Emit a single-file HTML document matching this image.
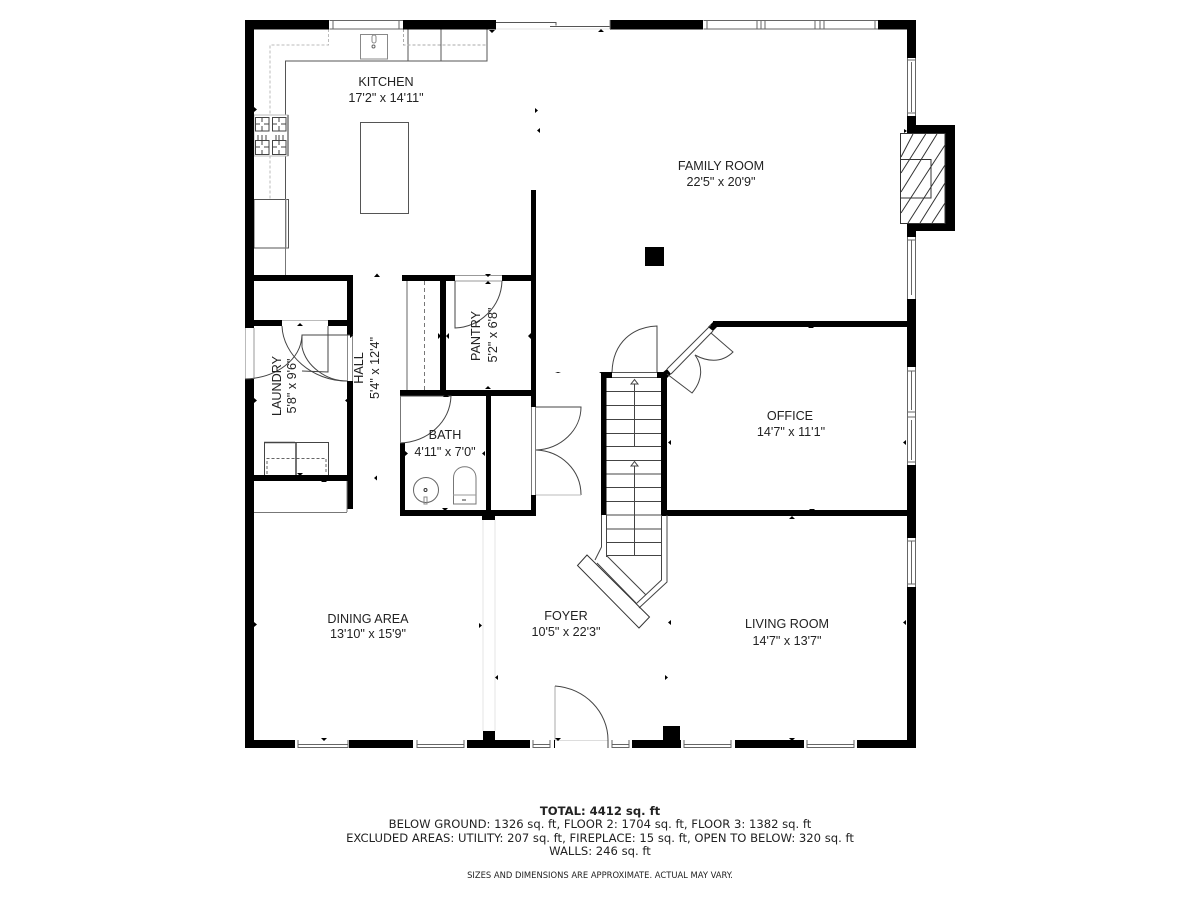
<!DOCTYPE html>
<html><head><meta charset="utf-8"><title>Floor plan</title>
<style>
html,body{margin:0;padding:0;background:#fff}
svg{display:block}
text{font-family:"Liberation Sans",sans-serif;font-size:12.6px;fill:#222;text-anchor:middle}
.f{font-family:"DejaVu Sans",sans-serif;font-size:11.6px;fill:#222}
</style></head><body>
<svg xmlns="http://www.w3.org/2000/svg" width="1200" height="900" viewBox="0 0 1200 900">
<rect width="1200" height="900" fill="#fff"/>

<!-- light lines -->
<g fill="none" stroke="#e4e4e4" stroke-width="1">
<line x1="483" y1="520" x2="483" y2="731"/><line x1="495" y1="520" x2="495" y2="731"/>
<line x1="496" y1="29" x2="610" y2="29"/>
</g>

<!-- kitchen fixtures -->
<g fill="none" stroke="#555" stroke-width="1">
<path d="M285.5 275V61H487V29.5"/>
<line x1="408" y1="29" x2="408" y2="61"/><line x1="441" y1="29" x2="441" y2="61"/>
<rect x="360.5" y="34.5" width="27" height="24.500" stroke="#888"/>
<rect x="360.5" y="122.500" width="48" height="91"/>
<rect x="254" y="199.500" width="34.500" height="48.500"/>
<line x1="286" y1="199" x2="286" y2="248" stroke="#999"/>
<rect x="372" y="35" width="4" height="8" rx="2" stroke="#888"/>
<circle cx="373.500" cy="46.500" r="1.500" stroke="#666"/>
</g>
<g fill="none" stroke="#aaa" stroke-width="1" stroke-dasharray="3 2">
<path d="M328.500 29V45H270V199" stroke="#bbb"/>
<path d="M403.500 29V45H487"/>
</g>
<!-- stove -->
<rect x="254" y="115" width="34" height="41" fill="#fff" stroke="#bbb"/>
<line x1="288" y1="115" x2="288" y2="156" stroke="#999" stroke-width="2"/>
<g fill="none" stroke="#444" stroke-width="1">
<rect x="255.500" y="117.500" width="13.500" height="13.500"/><rect x="272.500" y="117.500" width="13.500" height="13.500"/>
<rect x="255.500" y="140.500" width="13.500" height="14"/><rect x="272.500" y="140.500" width="13.500" height="14"/>
<path d="M262 117v5M262 126v5M255 124h5M264 124h5M279 117v5M279 126v5M272 124h5M281 124h5M262 135v10M262 150v5M255 147h5M264 147h5M279 135v10M279 150v5M272 147h5M281 147h5M258 135v5M266 135v5M276 135v5M283 135v5"/>
</g>

<!-- outer walls -->
<g fill="#000">
<rect x="245" y="20" width="84" height="9.500"/>
<rect x="403" y="20" width="93" height="9.500"/>
<rect x="610" y="20" width="93" height="9.500"/>
<rect x="878" y="20" width="38" height="9.500"/>
<rect x="245" y="20" width="9" height="308"/>
<rect x="245" y="379" width="9" height="369"/>
<rect x="907" y="20" width="9" height="38"/>
<rect x="907" y="116" width="9" height="10"/>
<rect x="907" y="125" width="48" height="106"/>
<rect x="907" y="231" width="9" height="6"/>
<rect x="907" y="299" width="9" height="68"/>
<rect x="907" y="465" width="9" height="73"/>
<rect x="907" y="587" width="9" height="161"/>
<rect x="245" y="740" width="50" height="8"/>
<rect x="349" y="740" width="64" height="8"/>
<rect x="467" y="740" width="63" height="8"/>
<rect x="632" y="740" width="49" height="8"/>
<rect x="735" y="740" width="69" height="8"/>
<rect x="857" y="740" width="59" height="8"/>
<rect x="483" y="731" width="12" height="10"/>
<rect x="663" y="726" width="17" height="15"/>
<rect x="645" y="247" width="19" height="19"/>
</g>

<!-- fireplace -->
<rect x="900.500" y="133.500" width="44.500" height="90" fill="#fff" stroke="#333"/>
<g stroke="#333" stroke-width="1" fill="none">
<path d="M913 134L901 157M925.700 134L901 173M937 134L901 192M945 145L901 213M945 165L908 223M945 183L920 223M945 203L932 223"/>
<rect x="900.500" y="159.500" width="30.500" height="38.500"/>
</g>

<!-- inner walls -->
<g fill="#000">
<rect x="254" y="275" width="99" height="6"/>
<rect x="347" y="275" width="6" height="60"/>
<rect x="254" y="320" width="28" height="6"/>
<rect x="328" y="320" width="19" height="6"/>
<rect x="347" y="381" width="6" height="128"/>
<rect x="254" y="475" width="93" height="6"/>
<rect x="402" y="275" width="53" height="6"/>
<rect x="502" y="275" width="34" height="6"/>
<rect x="440" y="281" width="6" height="110"/>
<rect x="531" y="190" width="5" height="217"/>
<rect x="531" y="495" width="5" height="21"/>
<rect x="400" y="390" width="136" height="6"/>
<rect x="400" y="443" width="5" height="73"/>
<rect x="400" y="510" width="136" height="6"/>
<rect x="486" y="396" width="5" height="115"/>
<rect x="482" y="515" width="13" height="5"/>
<rect x="601" y="372" width="5.500" height="143"/>
<rect x="661" y="372" width="6" height="143"/>
<rect x="601" y="372" width="11" height="6"/>
<rect x="657" y="372" width="10" height="6"/>
<rect x="661" y="510" width="246" height="6"/>
<rect x="713" y="321" width="194" height="6"/>
<polygon points="708,327 714,321 718,326 713,331"/>
<polygon points="662,373 667,369 671,374 666,379"/>
</g>

<!-- windows -->
<g fill="none" stroke="#666" stroke-width="1">
<path d="M329.500 20.500H403M329.500 29H403"/>
<path d="M333 20.500V29M399 20.500V29"/>
<path d="M703.500 20.500H878M703.500 29H878M707 20.500V29M757 20.500V29M761 20.500V29M765 20.500V29M815 20.500V29M820 20.500V29M824 20.500V29M875 20.500V29"/>
<path d="M907.500 58V116M915.500 58V116M907.500 60H916M911.500 62V112M907.500 113H916"/>
<path d="M907.500 237V299M915.500 237V299M907.500 240H916M911.500 240V295"/>
<path d="M907.500 367V465M915.500 367V465M907.500 371H916M911.500 371V410M907.500 412H916M907.500 417H916M911.500 420V460M907.500 462H916"/>
<path d="M907.500 538V587M915.500 538V587M907.500 541H916M911.500 541V584M907.500 584H916"/>
<path d="M298 740V748M298 744.500H348M298 747.500H348M348 740V748"/>
<path d="M417 740V748M417 744.500H464M417 747.500H464M464 740V748"/>
<path d="M684 740V748M684 744.500H731M684 747.500H731M731 740V748"/>
<path d="M807 740V748M807 744.500H854M807 747.500H854M854 740V748"/>
<path d="M533 740V748M533 744.500H550M533 747.500H550M550 740V748"/>
<path d="M612 740V748M612 744.500H629M612 747.500H629M629 740V748"/>
<path d="M245.500 328V379" stroke="#bbb"/>
<path d="M254 328V379" stroke="#999"/>
<path d="M347.500 335V381M352.500 335V381" stroke="#888"/>
<path d="M531.500 407V495M535.500 407V495" stroke="#777"/>
<path d="M282 320.500H328" stroke="#bbb"/>
<path d="M455 275.500H502M455 281H502" stroke="#999"/>
<path d="M612 372.500H657M612 377.500H657" stroke="#555"/>
<path d="M496 22.500H556V25.500M550 26.500H610" stroke="#555"/>
<line x1="610" y1="20" x2="610" y2="29" stroke="#888"/>
<line x1="407" y1="281" x2="407" y2="390" stroke="#999" stroke-width="1.500"/>
</g>
<line x1="424.500" y1="281" x2="424.500" y2="390" stroke="#777" stroke-dasharray="4 3"/>
<line x1="254" y1="512.500" x2="347" y2="512.500" stroke="#777"/>
<line x1="347" y1="481" x2="347" y2="512" stroke="#777"/>
<line x1="285.500" y1="248" x2="285.500" y2="275" stroke="#777"/>

<!-- stairs -->
<g fill="none" stroke="#444" stroke-width="1">
<path d="M606.500 391.500H661M606.500 405.500H661M606.500 419.500H661M606.500 433.500H661M606.500 446.500H661M606.500 460.500H661M606.500 474H661M606.500 487.500H661M606.500 501.500H661M606.500 515H661M606.500 529H661M606.500 542.500H661M606.500 555.500H661"/>
<path d="M634.500 381V447M634.500 462V556"/>
<path d="M634.500 379.500L631 384H638ZM634.500 461.500L631 466H638Z" fill="#fff"/>
<path d="M601.500 515V547L595 560M606.500 515V557M661.500 515V580L637 603M667 515V582L639 608"/>
<path d="M607 556L646 595M597 563L637 604"/>
<polygon points="587,555 649.500,617 639,628 577.500,565.500" stroke="#333"/>
</g>

<!-- doors -->
<g fill="none" stroke="#444" stroke-width="1">
<path d="M657 372V326C633 327 613 342 612 372"/>
<path d="M536 407H581C581 430 561 449 536 450"/>
<path d="M536 450C561 451 581 470 581 495"/>
<line x1="536" y1="495" x2="581" y2="495" stroke="#bbb"/>
<path d="M555 740V686" stroke="#aaa"/>
<path d="M555 686C585 688 608 712 608 740"/>
<line x1="555" y1="740.500" x2="608" y2="740.500" stroke="#ddd"/>
<line x1="608" y1="740" x2="608" y2="748"/>
<line x1="554.500" y1="740" x2="554.500" y2="748" stroke="#000"/>
<path d="M455 281V328C480 327 501 307 502 281"/>
<path d="M400 396H451C450 422 428 442 400 443"/>
<line x1="400.500" y1="396" x2="400.500" y2="443" stroke="#777"/>
<path d="M245 379C276 378 301 360 302 335H353"/>
<path d="M282 326C283 355 312 381 347 381"/>
<path d="M302 347C306 366 326 381 347 381"/>
<path d="M328 326V372L302 371"/>
<path d="M302 335V347"/>
<!-- office diag -->
<path d="M667 369L711 325M671 374L713 331" stroke="#444"/>
<path d="M711 333L733 352C721 364 706 361 695 355"/>
<path d="M667 374L692 393C703 380 703 366 695 355"/>
<!-- washer/dryer -->
<path d="M264.500 475V442.500H328.500V475"/>
<line x1="296" y1="442" x2="296" y2="475" stroke-width="1.500"/>
<line x1="264" y1="442.500" x2="295" y2="442.500" stroke-width="1.500"/>
<path d="M267 474V458.500H326V474" stroke="#666" stroke-dasharray="3 2"/>
<!-- sink -->
<circle cx="426" cy="490" r="12.500" stroke="#666"/>
<circle cx="425.500" cy="490" r="1.500" stroke="#333"/>
<rect x="424" y="497" width="3" height="7" stroke="#888"/>
<!-- toilet -->
<path d="M453.500 504V478C453.500 463 476 463 476 478V504Z" stroke="#777"/>
<line x1="453" y1="495" x2="476" y2="495" stroke="#999"/>
<line x1="462" y1="500" x2="466" y2="500" stroke="#333"/>
</g>

<!-- dimension ticks -->
<g fill="#000">
<path d="M374 277l3-3.500 3 3.500zM374 478l3-2.500 0 5zM489 30l3 3 3-3zM598 32l3-3 3 3zM535 108v5l3-2.500zM540 128v5l-3-2.500zM254 107v5l3-2.500zM297 326l3-3 3 3zM350 333l3 2.500-3 2.500zM254 398v5l3-2.500zM348 398v5l-3-2.500zM297 473l3 3 3-3zM321 482l3-3 3 3zM438 333v6l3-3zM449 333v6l-3-3zM485 274l3 3 3-3zM485 284l3-3 3 3zM485 389l3-3 3 3zM531 333v6l-3-3zM443 397l3-3 3 3zM405 451v5l3-2.500zM485 451v5l-3-2.500zM442 508l3 3 3-3zM555 373l3-1 3 1zM599 372l3 2 3-2zM671 440v5l-3-2.500zM671 620v5l-3-2.500zM498 675v5l-3-2.500zM321 738l3 3 3-3zM555 738l3 3 3-3zM789 738l3 3 3-3zM665 675v5l3-2.500zM479 623v5l3-2.500zM254 622v5l3-2.500zM789 519l3-3 3 3zM808 328l3-3 3 3zM809 509l3 3 3-3zM906 440v5l-3-2.500zM906 620v5l-3-2.500zM904 129v4l3-2z"/>
</g>

<!-- labels -->
<text x="386" y="86">KITCHEN</text>
<text x="386" y="102">17'2" x 14'11"</text>
<text x="721" y="170">FAMILY ROOM</text>
<text x="721" y="186">22'5" x 20'9"</text>
<text x="790" y="420">OFFICE</text>
<text x="791" y="436">14'7" x 11'1"</text>
<text x="787" y="628">LIVING ROOM</text>
<text x="787" y="645">14'7" x 13'7"</text>
<text x="566" y="620">FOYER</text>
<text x="566" y="636">10'5" x 22'3"</text>
<text x="368" y="623">DINING AREA</text>
<text x="368" y="638">13'10" x 15'9"</text>
<text x="445" y="439">BATH</text>
<text x="445" y="456">4'11" x 7'0"</text>
<text transform="translate(281,386) rotate(-90)">LAUNDRY</text>
<text transform="translate(296,386) rotate(-90)">5'8" x 9'6"</text>
<text transform="translate(363,368) rotate(-90)">HALL</text>
<text transform="translate(379,368) rotate(-90)">5'4" x 12'4"</text>
<text transform="translate(480,336) rotate(-90)">PANTRY</text>
<text transform="translate(497,335) rotate(-90)">5'2" x 6'8"</text>

<text class="f" x="600" y="815" style="font-weight:bold">TOTAL: 4412 sq. ft</text>
<text class="f" x="600" y="828">BELOW GROUND: 1326 sq. ft, FLOOR 2: 1704 sq. ft, FLOOR 3: 1382 sq. ft</text>
<text class="f" x="600" y="842">EXCLUDED AREAS: UTILITY: 207 sq. ft, FIREPLACE: 15 sq. ft, OPEN TO BELOW: 320 sq. ft</text>
<text class="f" x="600" y="855">WALLS: 246 sq. ft</text>
<text class="f" x="600" y="878" style="font-size:8.4px">SIZES AND DIMENSIONS ARE APPROXIMATE. ACTUAL MAY VARY.</text>
</svg>
</body></html>
